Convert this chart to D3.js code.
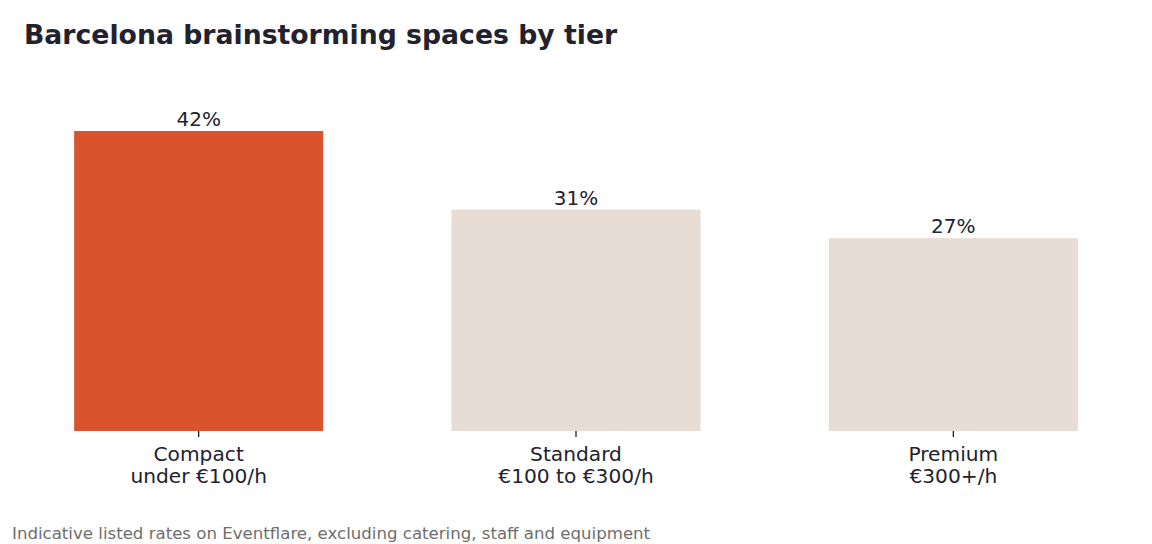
<!DOCTYPE html>
<html lang="en">
<head>
<meta charset="utf-8">
<title>Barcelona brainstorming spaces by tier</title>
<script src="https://d3js.org/d3.v7.min.js"></script>
<style>
  body { margin: 0; background: #fff; }
  text { font-family: "DejaVu Sans", sans-serif; }
</style>
</head>
<body>
<script>
// data
var tiers = ["Compact", "Standard", "Premium"];
var tierRates = ["under €100/h", "€100 to €300/h", "€300+/h"];
var shares = [42, 31, 27];
var highlight = "Compact";

var w = 1152, h = 544;
var baseY = 431;

var svg = d3.select("body").append("svg")
    .attr("width", w)
    .attr("height", h);

var xScale = d3.scaleBand()
    .domain(tiers)
    .range([10, 1142])
    .paddingInner(0.34)
    .paddingOuter(0.17);

var yScale = d3.scaleLinear()
    .domain([0, 42])
    .range([baseY, 131]);

// bars
svg.selectAll("rect.bar")
   .data(tiers)
   .enter().append("rect")
   .attr("class", "bar")
   .attr("x", d => xScale(d))
   .attr("width", xScale.bandwidth())
   .attr("y", (d, i) => yScale(shares[i]))
   .attr("height", (d, i) => baseY - yScale(shares[i]))
   .attr("fill", d => d === highlight ? "#d9532c" : "#e7ddd4");

// value labels
svg.selectAll("text.val")
   .data(tiers)
   .enter().append("text")
   .attr("class", "val")
   .attr("x", d => xScale(d) + xScale.bandwidth() / 2)
   .attr("y", (d, i) => yScale(shares[i]) - 5)
   .attr("text-anchor", "middle")
   .attr("font-size", "20px")
   .attr("fill", "#22222e")
   .text((d, i) => shares[i] + "%");

// x axis
var xAxis = d3.axisBottom(xScale).tickSize(6).tickPadding(9);
var gx = svg.append("g")
    .attr("transform", `translate(0, ${baseY})`)
    .call(xAxis);
gx.select(".domain").remove();
gx.selectAll(".tick line").attr("stroke", "#22222e").attr("stroke-width", 1.3);
gx.selectAll(".tick text").remove();
gx.selectAll(".tick").each(function(d, i) {
  var t = d3.select(this).append("text")
      .attr("text-anchor", "middle")
      .attr("font-size", "20.2px")
      .attr("fill", "#22222e")
      .attr("y", 30);
  t.append("tspan").attr("x", 0).text(d);
  t.append("tspan").attr("x", 0).attr("dy", 22).text(tierRates[i]);
});

// title
svg.append("text")
   .attr("x", 24)
   .attr("y", 44)
   .attr("font-size", "26.7px")
   .attr("font-weight", "bold")
   .attr("fill", "#22222e")
   .text("Barcelona brainstorming spaces by tier");

// footer note
svg.append("text")
   .attr("x", 12)
   .attr("y", 539)
   .attr("font-size", "16.6px")
   .attr("fill", "#6e6e6e")
   .text("Indicative listed rates on Eventflare, excluding catering, staff and equipment");
</script>
</body>
</html>
